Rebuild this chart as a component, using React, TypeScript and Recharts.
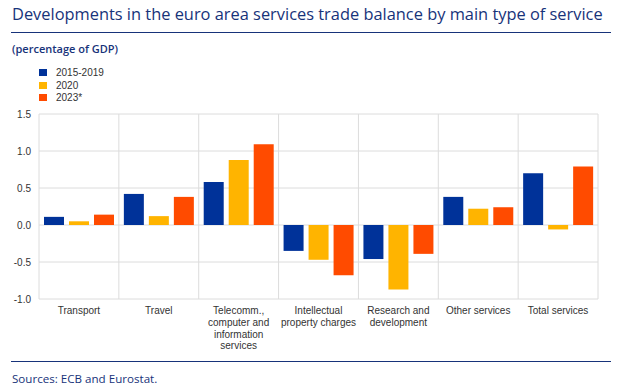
import React from "react";
import { BarChart, Bar, XAxis, YAxis, CartesianGrid } from "recharts";

const categories = [
  "Transport",
  "Travel",
  "Telecomm.,\ncomputer and\ninformation\nservices",
  "Intellectual\nproperty charges",
  "Research and\ndevelopment",
  "Other services",
  "Total services",
];
const avg2015to2019 = [0.11, 0.42, 0.58, -0.35, -0.46, 0.38, 0.7];
const year2020 = [0.05, 0.12, 0.88, -0.47, -0.87, 0.22, -0.06];
const year2023 = [0.14, 0.38, 1.09, -0.68, -0.39, 0.24, 0.79];
const yTicks = [-1.0, -0.5, 0.0, 0.5, 1.0, 1.5];

const series = [
  { key: "a", name: "2015-2019", color: "#003299" },
  { key: "b", name: "2020", color: "#FFB400" },
  { key: "c", name: "2023*", color: "#FF4B00" },
];

const data = categories.map((label, i) => ({
  label,
  a: avg2015to2019[i],
  b: year2020[i],
  c: year2023[i],
}));

const NAVY = "#17337a";
const TEXT_FONT = "'Liberation Sans', Arial, sans-serif";
const HEAD_FONT = "'Open Sans', sans-serif";

function CategoryTick(props: any) {
  const { x, y, payload } = props;
  const lines = String(payload.value).split("\n");
  return (
    <text x={x} y={y} textAnchor="middle" fontSize={10} fill="#333" fontFamily={TEXT_FONT}>
      {lines.map((l, i) => (
        <tspan key={i} x={x} dy={i === 0 ? "0.71em" : 11.7}>
          {l}
        </tspan>
      ))}
    </text>
  );
}

function LegendBox() {
  return (
    <div
      style={{
        position: "absolute",
        left: 39,
        top: 66,
        fontFamily: TEXT_FONT,
        fontSize: 10,
        color: "#333",
      }}
    >
      {series.map((s) => (
        <div key={s.key} style={{ display: "flex", alignItems: "center", height: 12.7 }}>
          <span style={{ width: 8, height: 7, background: s.color, display: "inline-block", marginRight: 9 }} />
          <span>{s.name}</span>
        </div>
      ))}
    </div>
  );
}

export default function App() {
  return (
    <div style={{ position: "absolute", left: 0, top: 0, width: 626, height: 391, background: "#fff" }}>
      <div
        style={{
          position: "absolute",
          left: 12,
          top: 5,
          fontFamily: HEAD_FONT,
          fontSize: 16.4,
          lineHeight: "17px",
          color: NAVY,
          whiteSpace: "nowrap",
        }}
      >
        Developments in the euro area services trade balance by main type of service
      </div>
      <div style={{ position: "absolute", left: 11, top: 32, width: 600, height: 1, background: NAVY }} />
      <div
        style={{
          position: "absolute",
          left: 12,
          top: 43,
          fontFamily: HEAD_FONT,
          fontSize: 11,
          lineHeight: "11px",
          fontWeight: 600,
          color: NAVY,
        }}
      >
        (percentage of GDP)
      </div>

      <LegendBox />

      <div style={{ position: "absolute", left: 0, top: 0 }}>
        <BarChart
          width={626}
          height={391}
          data={data}
          margin={{ top: 114, right: 28, left: 9, bottom: 42 }}
          barSize={20}
          barGap={5}
        >
          <CartesianGrid
            stroke="#dcdcdc"
            verticalCoordinatesGenerator={({ offset }: any) =>
              categories
                .map((_, i) => offset.left + (i * offset.width) / categories.length)
                .concat(offset.left + offset.width)
            }
          />
          <XAxis
            dataKey="label"
            interval={0}
            axisLine={false}
            tickLine={false}
            height={50}
            tick={<CategoryTick />}
          />
          <YAxis
            width={30}
            domain={[-1, 1.5]}
            ticks={yTicks}
            tickFormatter={(v: number) => v.toFixed(1)}
            axisLine={false}
            tickLine={false}
            tick={{ fontSize: 10, fill: "#333", fontFamily: TEXT_FONT }}
          />
          {series.map((s) => (
            <Bar key={s.key} dataKey={s.key} name={s.name} fill={s.color} isAnimationActive={false} />
          ))}
        </BarChart>
      </div>

      <div style={{ position: "absolute", left: 11, top: 361, width: 600, height: 1, background: NAVY }} />
      <div
        style={{
          position: "absolute",
          left: 12,
          top: 373,
          fontFamily: HEAD_FONT,
          fontSize: 11.6,
          lineHeight: "11px",
          color: NAVY,
        }}
      >
        Sources: ECB and Eurostat.
      </div>
    </div>
  );
}
